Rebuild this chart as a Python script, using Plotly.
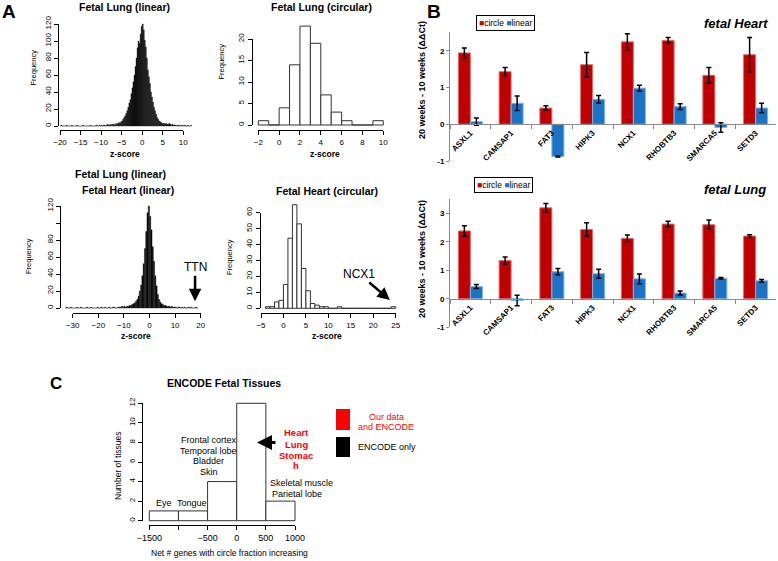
import plotly.graph_objects as go

W, H = 778, 561
FONT = "Liberation Sans, Arial, Helvetica, sans-serif"

# ---------------- data ----------------
# Panel A: histograms (bin left edge of first bin, bin width, counts)
lung_linear_first_edge = -20.0
lung_linear_bin_width = 0.25
lung_linear_counts = [
    0, 1, 0, 0, 0, 0, 1, 0, 0, 0, 0, 1, 0, 0, 0, 0, 1, 0, 0, 0,
    0, 0, 1, 0, 0, 0, 0, 0, 0, 1, 0, 0, 0, 0, 0, 1, 0, 0, 1, 0,
    1, 0, 1, 1, 0, 1, 2, 1, 1, 2, 1, 2, 2, 1, 3, 2, 3, 4, 3, 5,
    6, 8, 10, 12, 15, 18, 22, 27, 31, 38, 45, 52, 60, 70, 80, 92,
    100, 97, 108, 117, 120, 113, 101, 93, 80, 66, 58, 50, 40, 34, 28, 22,
    18, 14, 10, 8, 6, 5, 4, 3, 3, 3, 2, 3, 2, 2, 3, 2, 1, 2, 1, 1,
    1, 0, 1, 1, 0, 1, 0, 1, 0, 1, 0, 0, 1, 0, 0, 1,
]
lung_circular_first_edge = -2.0
lung_circular_bin_width = 1.0
lung_circular_counts = [1, 0, 4, 14, 23, 19, 7, 3, 1, 0, 0, 1]

heart_linear_first_edge = -33.0
heart_linear_bin_width = 0.5
heart_linear_counts = [
    0, 1, 0, 0, 1, 0, 0, 0, 0, 1, 0, 0, 1, 0, 0, 0, 0, 1, 0, 0,
    1, 0, 0, 0, 0, 1, 0, 0, 1, 0, 0, 1, 0, 0, 1, 0, 0, 1, 1, 0,
    0, 1, 1, 1, 2, 1, 2, 1, 2, 2, 3, 3, 4, 5, 6, 8, 10, 14, 20, 27,
    38, 52, 70, 90, 112, 120, 108, 92, 72, 55, 38, 26, 16, 10, 7, 5,
    4, 3, 3, 2, 2, 2, 1, 2, 1, 1, 1, 0, 1, 1, 0, 1, 0, 1, 0, 0,
    1, 0, 1, 0, 0, 0, 1, 0,
]
heart_circular_first_edge = -4.0
heart_circular_bin_width = 1.0
heart_circular_counts = [1, 1, 4, 5, 15, 44, 65, 53, 25, 11, 3, 2, 1, 1, 0, 0, 1,
                         0, 0, 0, 0, 0, 0, 0, 0, 0, 0, 0, 1]

# Panel B: qPCR (20 weeks - 10 weeks, ddCt)
genes = ["ASXL1", "CAMSAP1", "FAT3", "HIPK3", "NCX1", "RHOBTB3", "SMARCA5", "SETD3"]
heart_circle = [1.94, 1.43, 0.44, 1.62, 2.24, 2.28, 1.33, 1.89]
heart_circle_err = [0.13, 0.11, 0.06, 0.33, 0.22, 0.08, 0.21, 0.47]
heart_linear = [0.07, 0.57, -0.88, 0.68, 0.98, 0.48, -0.09, 0.44]
heart_linear_err = [0.10, 0.20, 0.01, 0.10, 0.08, 0.08, 0.13, 0.13]
lung_circle = [2.38, 1.34, 3.19, 2.43, 2.12, 2.62, 2.60, 2.20]
lung_circle_err = [0.18, 0.13, 0.15, 0.24, 0.12, 0.10, 0.16, 0.05]
lung_linear = [0.43, -0.06, 0.95, 0.88, 0.70, 0.20, 0.72, 0.63]
lung_linear_err = [0.07, 0.18, 0.11, 0.16, 0.17, 0.07, 0.03, 0.05]
b_yticks_heart = [-1, 0, 1, 2]
b_yticks_lung = [-1, 0, 1, 2, 3]

# Panel C: ENCODE fetal tissues
encode_first_edge = -1500
encode_bin_width = 500
encode_counts = [1, 1, 4, 12, 2]

# tick labels
a1_xticks = [-20, -15, -10, -5, 0, 5, 10]
a1_yticks = [0, 20, 40, 60, 80, 100, 120]
a2_xticks = [-2, 0, 2, 4, 6, 8, 10]
a2_yticks = [0, 5, 10, 15, 20]
a3_xticks = [-30, -20, -10, 0, 10, 20]
a3_yticks = [0, 20, 40, 60, 80, 100, 120]
a3_yticktext = ["0", "20", "40", "60", "80", "", "120"]
a4_xticks = [-5, 0, 5, 10, 15, 20, 25]
a4_yticks = [0, 10, 20, 30, 40, 50, 60]
c_xticks = [-1500, -1000, -500, 0, 500, 1000]
c_xticktext = ["\u22121500", "", "\u2212500", "0", "500", "1000"]
c_yticks = [0, 2, 4, 6, 8, 10, 12]

RED = "#C00000"
BLUE = "#1A73C4"


# ---------------- helpers ----------------
def px_x(p):
    return p / W


def px_y(p):
    return 1 - p / H


def lin(cal, p):
    va, pa, vb, pb = cal
    return va + (p - pa) * (vb - va) / (pb - pa)


def pos(cal, v):
    va, pa, vb, pb = cal
    return pa + (v - va) * (pb - pa) / (vb - va)


fig = go.Figure()
layout = {}

tickfont = dict(family=FONT, size=8, color="black")


def hist_panel(n, first_edge, bw, counts, xcal, ycal, box, xt, yt, xline, yline,
               filled, xtt=None, ytt=None, xfont=8):
    L, R, B, T = box
    lefts = [first_edge + i * bw for i in range(len(counts))]
    if filled:
        marker = dict(color="black", line=dict(color="#222", width=0.4))
    else:
        marker = dict(color="white", line=dict(color="#333", width=1))
    fig.add_trace(go.Bar(x=lefts, y=counts, width=[bw] * len(counts), offset=0,
                         marker=marker, xaxis=f"x{n}", yaxis=f"y{n}",
                         showlegend=False, hoverinfo="x+y"))
    layout[f"xaxis{n}"] = dict(domain=[px_x(L), px_x(R)], range=[lin(xcal, L), lin(xcal, R)],
                               anchor=f"y{n}", visible=False, automargin=False)
    layout[f"yaxis{n}"] = dict(domain=[px_y(B), px_y(T)], range=[lin(ycal, B), lin(ycal, T)],
                               anchor=f"x{n}", visible=False, automargin=False)
    m = n + 1
    # empty trace so that the R-style (detached) tick axes get drawn
    fig.add_trace(go.Scatter(x=[], y=[], xaxis=f"x{m}", yaxis=f"y{m}", showlegend=False,
                             hoverinfo="skip"))
    layout[f"xaxis{m}"] = dict(
        domain=[px_x(pos(xcal, xt[0])), px_x(pos(xcal, xt[-1]))], range=[xt[0], xt[-1]],
        anchor="free", position=px_y(xline), showline=True, linecolor="black", linewidth=1,
        ticks="outside", ticklen=4, tickcolor="black", tickvals=xt,
        ticktext=xtt if xtt else [str(v).replace("-", "\u2212") for v in xt],
        tickfont=dict(family=FONT, size=xfont, color="black"), showgrid=False, zeroline=False,
        automargin=False)
    layout[f"yaxis{m}"] = dict(
        domain=[px_y(pos(ycal, yt[0])), px_y(pos(ycal, yt[-1]))], range=[yt[0], yt[-1]],
        anchor="free", position=px_x(yline), showline=True, linecolor="black", linewidth=1,
        ticks="outside", ticklen=4, tickcolor="black", tickvals=yt,
        ticktext=ytt if ytt else [str(v) for v in yt], tickangle=-90,
        tickfont=tickfont, showgrid=False, zeroline=False, automargin=False)


# Panel A
hist_panel(1, lung_linear_first_edge, lung_linear_bin_width, lung_linear_counts,
           (-20, 60, 10, 183.3), (0, 126, 120, 24), (56, 196, 128, 18),
           a1_xticks, a1_yticks, 130, 58, True)
hist_panel(3, lung_circular_first_edge, lung_circular_bin_width, lung_circular_counts,
           (-2, 258.3, 10, 383.3), (0, 125, 20, 39), (252, 390, 127, 18),
           a2_xticks, a2_yticks, 130, 251.5, False)
hist_panel(5, heart_linear_first_edge, heart_linear_bin_width, heart_linear_counts,
           (-30, 72.7, 20, 200.7), (0, 308, 120, 206), (60, 205, 310, 198),
           a3_xticks, a3_yticks, 313, 60, True, ytt=a3_yticktext)
hist_panel(7, heart_circular_first_edge, heart_circular_bin_width, heart_circular_counts,
           (-5, 261, 25, 395.7), (0, 308.3, 60, 212.7), (258, 402, 310, 198),
           a4_xticks, a4_yticks, 313, 259.5, False)
# Panel C
hist_panel(9, encode_first_edge, encode_bin_width, encode_counts,
           (-1500, 149.3, 1000, 295), (0, 520.7, 12, 403.3), (142, 300, 522, 398),
           c_xticks, c_yticks, 525, 141.7, False, xtt=c_xticktext, xfont=9)

# Panel B
for n, circ, circ_e, linr, linr_e, ybot, ytop, yrange, yzero, yt in [
    (11, heart_circle, heart_circle_err, heart_linear, heart_linear_err, 161, 32.3, [-1, 2.5], 124.3, b_yticks_heart),
    (12, lung_circle, lung_circle_err, lung_linear, lung_linear_err, 327.3, 199, [-1, 3.5], 299, b_yticks_lung),
]:
    fig.add_trace(go.Bar(x=genes, y=circ, name="circle", marker=dict(color=RED, line=dict(color="#E07070", width=1)),
                         error_y=dict(type="data", array=circ_e, color="black", thickness=1.5, width=2.5),
                         xaxis=f"x{n}", yaxis=f"y{n}", showlegend=False))
    fig.add_trace(go.Bar(x=genes, y=linr, name="linear", marker=dict(color=BLUE, line=dict(color="#7DB6E8", width=1)),
                         error_y=dict(type="data", array=linr_e, color="black", thickness=1.5, width=2.5),
                         xaxis=f"x{n}", yaxis=f"y{n}", showlegend=False))
    layout[f"xaxis{n}"] = dict(
        type="category", domain=[px_x(450), px_x(776)], anchor="free", position=px_y(yzero),
        showline=True, linecolor="#8a8a8a", linewidth=1, ticks="outside", tickson="boundaries",
        ticklen=4, tickcolor="#8a8a8a", tickangle=-45, automargin=False,
        tickfont=dict(family=FONT, size=8, color="black", weight="bold"), showgrid=False, zeroline=False)
    layout[f"yaxis{n}"] = dict(
        domain=[px_y(ybot), px_y(ytop)], range=yrange, anchor=f"x{n}", showline=True,
        linecolor="#8a8a8a", linewidth=1, ticks="outside", ticklen=3, tickcolor="#8a8a8a",
        tickvals=yt, ticktext=[str(v) for v in yt], automargin=False,
        tickfont=dict(family=FONT, size=8, color="black", weight="bold"), showgrid=False, zeroline=False)

annotations = []


def ann(text, x, y, size=9, color="black", bold=False, italic=False, angle=0, xanchor="center", **kw):
    t = text
    if bold:
        t = f"<b>{t}</b>"
    if italic:
        t = f"<i>{t}</i>"
    d = dict(text=t, x=px_x(x), y=px_y(y), xref="paper", yref="paper", showarrow=False,
             xanchor=xanchor, yanchor="middle", textangle=angle,
             font=dict(family=FONT, size=size, color=color))
    d.update(kw)
    annotations.append(d)


# panel letters
ann("A", 9, 11, size=19, bold=True)
ann("B", 434, 11, size=19, bold=True)
ann("C", 56, 383, size=17, bold=True)

# Panel A titles
ann("Fetal Lung (linear)", 124.7, 7, size=10.5, bold=True)
ann("Fetal Lung (circular)", 321, 7, size=10.5, bold=True)
ann("Fetal Lung (linear)", 120, 174, size=10.5, bold=True)
ann("Fetal Heart (linear)", 128.3, 190, size=10.5, bold=True)
ann("Fetal Heart (circular)", 327, 191, size=10.5, bold=True)
for x, y in [(32.5, 68), (221.5, 62), (29, 256), (229, 257)]:
    ann("Frequency", x, y, size=7.5, angle=-90)
for x, y in [(125, 154), (325, 154), (136, 336), (327, 336)]:
    ann("z-score", x, y, size=8.5, bold=True)

# arrows in panel A
annotations.append(dict(text="TTN", x=17.8, y=8, xref="x5", yref="y5", showarrow=True,
                        ax=0, ay=-34, arrowhead=2, arrowsize=1, arrowwidth=2.5, arrowcolor="black",
                        font=dict(family=FONT, size=12, color="black")))
annotations.append(dict(text="NCX1", x=23.7, y=5.2, xref="x7", yref="y7", showarrow=True,
                        ax=-30.5, ay=-26, arrowhead=2, arrowsize=1, arrowwidth=2.5, arrowcolor="black",
                        font=dict(family=FONT, size=12, color="black")))

# Panel B texts
legend_txt = (f'<span style="color:{RED}">\u25A0</span>circle '
              f'<span style="color:{BLUE}">\u25A0</span>linear')
ann(legend_txt, 505.5, 23.5, size=8.5, bordercolor="black", borderwidth=1, borderpad=2)
ann(legend_txt, 503, 184.5, size=8.5, bordercolor="black", borderwidth=1, borderpad=2)
ann("fetal Heart", 770, 23, size=13, bold=True, italic=True, xanchor="right")
ann("fetal Lung", 768, 189, size=13, bold=True, italic=True, xanchor="right")
ann("20 weeks - 10 weeks (\u0394\u0394Ct)", 422, 80, size=9, bold=True, angle=-90)
ann("20 weeks - 10 weeks (\u0394\u0394Ct)", 422, 259, size=9, bold=True, angle=-90)

# Panel C texts
ann("ENCODE Fetal Tissues", 224, 383, size=10.5, bold=True)
ann("Number of tissues", 118, 466, size=8.5, angle=-90)
ann("Net # genes with circle fraction increasing", 229, 553, size=8.5)
ann("Eye", 163.5, 503, size=9)
ann("Tongue", 192, 503, size=9)
for t, y in [("Frontal cortex", 440), ("Temporal lobe", 451), ("Bladder", 461.3), ("Skin", 471.7)]:
    ann(t, 208.5, y, size=9)
for t, y in [("Heart", 432.7), ("Lung", 444), ("Stomac", 455), ("h", 465)]:
    ann(t, 296, y, size=9.5, color="#FF0000", bold=True)
ann("Skeletal muscle", 301.7, 483.3, size=9)
ann("Parietal lobe", 296.7, 494, size=9)
ann("Our data", 386, 416.7, size=9, color="#FF0000")
ann("and ENCODE", 386, 427.3, size=9, color="#FF0000")
ann("ENCODE only", 386.5, 446.7, size=9)
annotations.append(dict(text="", x=348, y=8, xref="x9", yref="y9", showarrow=True,
                        ax=20, ay=0, arrowhead=2, arrowsize=1, arrowwidth=3, arrowcolor="black"))

shapes = [
    dict(type="rect", xref="paper", yref="paper", x0=px_x(336), x1=px_x(350), y0=px_y(430), y1=px_y(409),
         fillcolor="#FF0000", line=dict(width=0)),
    dict(type="rect", xref="paper", yref="paper", x0=px_x(336), x1=px_x(350), y0=px_y(457), y1=px_y(437),
         fillcolor="black", line=dict(width=0)),
]

fig.update_layout(
    width=W, height=H, margin=dict(l=0, r=0, t=0, b=0, pad=0, autoexpand=False),
    paper_bgcolor="white", plot_bgcolor="rgba(0,0,0,0)",
    font=dict(family=FONT, color="black"),
    barmode="group", bargap=0.41, bargroupgap=0,
    annotations=annotations, shapes=shapes, showlegend=False,
    hovermode=False,
    **layout,
)

fig.write_html("out.html", config={"displayModeBar": False},
               post_script="document.body.style.margin='0';")
